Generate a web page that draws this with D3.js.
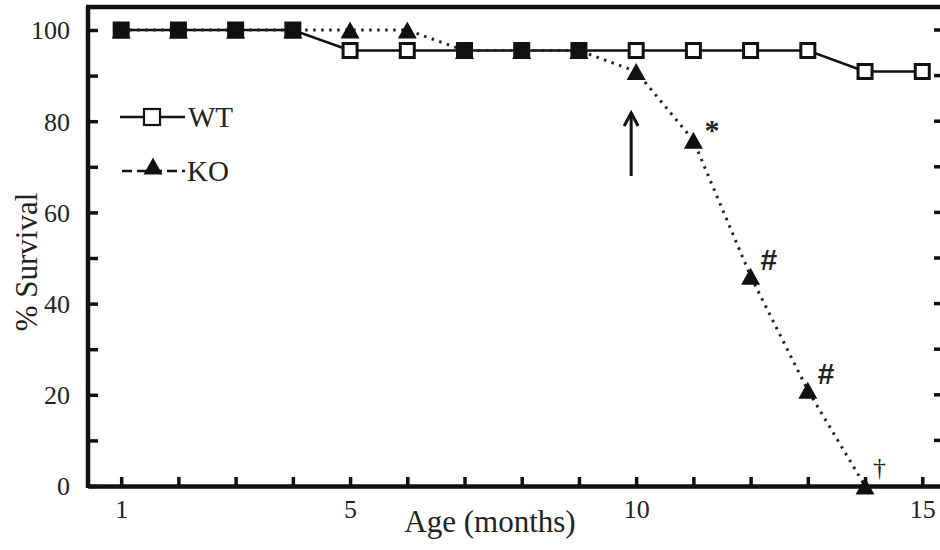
<!DOCTYPE html>
<html>
<head>
<meta charset="utf-8">
<script src="https://cdn.jsdelivr.net/npm/d3@7"></script>
<style>
  body { margin: 0; background: #fff; }
  svg { display: block; font-family: "Liberation Serif", "Times New Roman", serif; }
</style>
</head>
<body>
<div id="chart"></div>
<script>
// ---- data ----
const months = [1, 2, 3, 4, 5, 6, 7, 8, 9, 10, 11, 12, 13, 14, 15];
const wtSurvival = [100, 100, 100, 100, 95.5, 95.5, 95.5, 95.5, 95.5, 95.5, 95.5, 95.5, 95.5, 90.9, 90.9];
const koMonths = [1, 2, 3, 4, 5, 6, 7, 8, 9, 10, 11, 12, 13, 14];
const koSurvival = [100, 100, 100, 100, 100, 100, 95.5, 95.5, 95.5, 90.9, 75.8, 46, 21, 0];
const xLabelTicks = [1, 5, 10, 15];
const yTicks = [0, 10, 20, 30, 40, 50, 60, 70, 80, 90, 100];
const yLabelTicks = [0, 20, 40, 60, 80, 100];
// significance marks on KO points
const marks = [
  { month: 11, label: "*" },
  { month: 12, label: "#" },
  { month: 13, label: "#" },
  { month: 14, label: "\u2020" }
];
const arrowMonth = 10;

const W = 940, H = 550;
const svg = d3.select("#chart").append("svg").attr("width", W).attr("height", H);

const x = d3.scaleLinear().domain([0.42, 15.31]).range([88, 940]);
const y = d3.scaleLinear().domain([0, 100]).range([486, 30]);
const yTop = 7;

const wt = months.map((m, i) => ({ m, v: wtSurvival[i] }));
const ko = koMonths.map((m, i) => ({ m, v: koSurvival[i] }));

// ---- axes ----
const xAxis = d3.axisBottom(x).tickValues(months).tickSizeInner(-9).tickSizeOuter(0).tickPadding(14)
  .tickFormat(d => xLabelTicks.includes(d) ? d : "");
const gx = svg.append("g").attr("transform", `translate(0,${y(0)})`).call(xAxis);

const yAxis = d3.axisLeft(y).tickValues(yTicks).tickSizeInner(-10).tickSizeOuter(0).tickPadding(18)
  .tickFormat(d => yLabelTicks.includes(d) ? d : "");
const gy = svg.append("g").attr("transform", `translate(${x.range()[0]},0)`).call(yAxis);

[gx, gy].forEach(g => {
  g.select(".domain").attr("stroke", "#111").attr("stroke-width", 4.5);
  g.selectAll(".tick line").attr("stroke", "#111").attr("stroke-width", 3.5);
  g.selectAll(".tick text").attr("fill", "#222").attr("font-size", 26)
    .attr("font-family", "Liberation Serif, serif");
});
gy.selectAll(".tick text").attr("dy", "0.34em");
// keep the y domain line covering to the bottom axis
gy.select(".domain").attr("d", `M0,${yTop}V${y(0) + 2}`);

// top border
svg.append("line")
  .attr("x1", x.range()[0] - 2).attr("x2", W).attr("y1", yTop).attr("y2", yTop)
  .attr("stroke", "#111").attr("stroke-width", 4.5);

// right-side ticks (frame edge is cut off)
svg.append("g").selectAll("line").data(yTicks.filter(d => d > 0)).join("line")
  .attr("x1", W - 6).attr("x2", W)
  .attr("y1", d => y(d)).attr("y2", d => y(d))
  .attr("stroke", "#111").attr("stroke-width", 3.5);

// ---- axis titles ----
svg.append("text")
  .attr("x", 490).attr("y", 532)
  .attr("text-anchor", "middle").attr("font-size", 31).attr("fill", "#222")
  .text("Age (months)");
svg.append("text")
  .attr("transform", `translate(37,${(y(0) + y(100)) / 2 + 4}) rotate(-90)`)
  .attr("text-anchor", "middle").attr("font-size", 31).attr("fill", "#222")
  .text("% Survival");

// ---- lines ----
const line = d3.line().x(d => x(d.m)).y(d => y(d.v));

svg.append("path").datum(wt).attr("d", line)
  .attr("fill", "none").attr("stroke", "#111").attr("stroke-width", 2.5);

svg.append("path").datum(ko).attr("d", line)
  .attr("fill", "none").attr("stroke", "#222").attr("stroke-width", 3)
  .attr("stroke-dasharray", "2.5,5.5");

// ---- markers ----
const sq = 14;
const koByMonth = new Map(ko.map(d => [d.m, d.v]));
svg.append("g").selectAll("rect").data(wt).join("rect")
  .attr("x", d => x(d.m) - sq / 2).attr("y", d => y(d.v) - sq / 2)
  .attr("width", sq).attr("height", sq)
  .attr("fill", d => koByMonth.get(d.m) === d.v ? "#111" : "#fff")
  .attr("stroke", "#111").attr("stroke-width", 3);

const triW = 19, triH = 17;
const tri = (cx, cy) => `M${cx},${cy - triH / 2}L${cx + triW / 2},${cy + triH / 2}L${cx - triW / 2},${cy + triH / 2}Z`;
svg.append("g").selectAll("path").data(ko).join("path")
  .attr("d", d => tri(x(d.m), y(d.v)))
  .attr("fill", "#111");

// ---- annotations ----
const markStyle = {
  "*": { dx: 11, dy: 0, size: 30, weight: "bold", font: "Liberation Serif, serif" },
  "#": { dx: 10, dy: -6, size: 30, weight: "bold", font: "Liberation Sans, Arial, sans-serif" },
  "\u2020": { dx: 8, dy: -10, size: 26, weight: "normal", font: "Liberation Serif, serif" }
};
svg.append("g").selectAll("text").data(marks).join("text")
  .attr("x", d => x(d.month) + markStyle[d.label].dx)
  .attr("y", d => y(koByMonth.get(d.month)) + markStyle[d.label].dy)
  .attr("font-size", d => markStyle[d.label].size)
  .attr("font-weight", d => markStyle[d.label].weight)
  .attr("font-family", d => markStyle[d.label].font)
  .attr("fill", "#222")
  .text(d => d.label);

// arrow at treatment start
const ax = x(arrowMonth) - 5;
svg.append("line").attr("x1", ax).attr("x2", ax).attr("y1", 176).attr("y2", 115)
  .attr("stroke", "#111").attr("stroke-width", 3);
svg.append("path")
  .attr("d", `M${ax - 7},${126}L${ax},${113}L${ax + 7},${126}`)
  .attr("fill", "none").attr("stroke", "#111").attr("stroke-width", 3)
  .attr("stroke-linejoin", "miter");

// ---- legend ----
const lg = svg.append("g");
lg.append("line").attr("x1", 120).attr("x2", 185).attr("y1", 117).attr("y2", 117)
  .attr("stroke", "#111").attr("stroke-width", 2.5);
lg.append("rect").attr("x", 152 - 8).attr("y", 117 - 8).attr("width", 16).attr("height", 16)
  .attr("fill", "#fff").attr("stroke", "#111").attr("stroke-width", 2.2);
lg.append("text").attr("x", 188).attr("y", 127).attr("font-size", 29).attr("fill", "#222").text("WT");

lg.append("line").attr("x1", 122).attr("x2", 185).attr("y1", 171).attr("y2", 171)
  .attr("stroke", "#111").attr("stroke-width", 2.5).attr("stroke-dasharray", "10,5");
lg.append("path").attr("d", tri(153, 166)).attr("fill", "#111");
lg.append("text").attr("x", 187).attr("y", 181).attr("font-size", 29).attr("fill", "#222").text("KO");
</script>
</body>
</html>
